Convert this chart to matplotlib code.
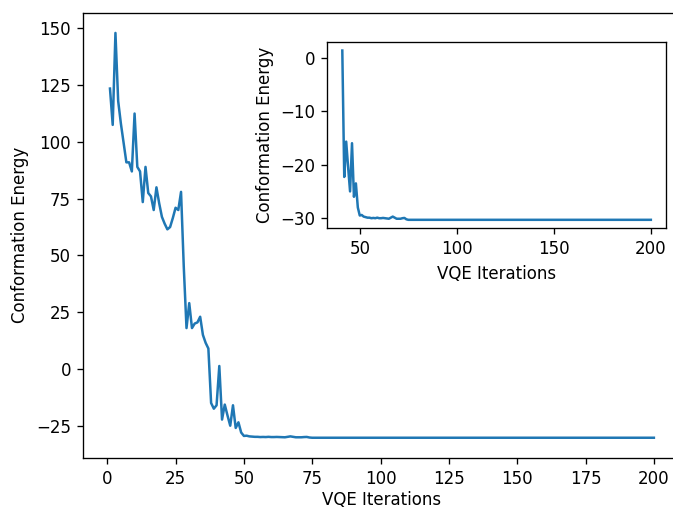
import numpy as np
import matplotlib
matplotlib.use("Agg")
import matplotlib.pyplot as plt

# VQE iterations 1..200
iterations = list(range(1, 201))

# energies, iterations 1..74
energies_head = [
    123.5, 107.5, 148.0, 118.0, 108.0, 99.5, 91.0, 91.0, 87.0, 112.5,
    89.0, 87.0, 73.5, 89.0, 77.5, 76.0, 70.0, 80.0, 73.0, 67.0,
    64.0, 61.5, 62.5, 66.5, 71.0, 70.0, 78.0, 45.0, 18.0, 29.0,
    18.0, 20.0, 20.5, 23.0, 15.0, 11.5, 9.0, -15.0, -17.5, -16.0,
    1.3, -22.3, -15.7, -20.5, -25.0, -16.0, -26.0, -23.5, -28.0, -29.5,
    -29.4, -29.7, -29.8, -29.9, -29.9, -30.0, -29.95, -30.0, -29.9, -30.0,
    -30.0, -29.95, -30.0, -30.05, -30.1, -29.9, -29.7, -29.9, -30.1, -30.1,
    -30.1, -30.0, -29.95, -30.2,
]

# flat tail, iterations 75..200
energies_tail = [
    -30.3, -30.3, -30.3, -30.3, -30.3, -30.3, -30.3, -30.3, -30.3, -30.3,
    -30.3, -30.3, -30.3, -30.3, -30.3, -30.3, -30.3, -30.3, -30.3, -30.3,
    -30.3, -30.3, -30.3, -30.3, -30.3, -30.3, -30.3, -30.3, -30.3, -30.3,
    -30.3, -30.3, -30.3, -30.3, -30.3, -30.3, -30.3, -30.3, -30.3, -30.3,
    -30.3, -30.3, -30.3, -30.3, -30.3, -30.3, -30.3, -30.3, -30.3, -30.3,
    -30.3, -30.3, -30.3, -30.3, -30.3, -30.3, -30.3, -30.3, -30.3, -30.3,
    -30.3, -30.3, -30.3, -30.3, -30.3, -30.3, -30.3, -30.3, -30.3, -30.3,
    -30.3, -30.3, -30.3, -30.3, -30.3, -30.3, -30.3, -30.3, -30.3, -30.3,
    -30.3, -30.3, -30.3, -30.3, -30.3, -30.3, -30.3, -30.3, -30.3, -30.3,
    -30.3, -30.3, -30.3, -30.3, -30.3, -30.3, -30.3, -30.3, -30.3, -30.3,
    -30.3, -30.3, -30.3, -30.3, -30.3, -30.3, -30.3, -30.3, -30.3, -30.3,
    -30.3, -30.3, -30.3, -30.3, -30.3, -30.3, -30.3, -30.3, -30.3, -30.3,
    -30.3, -30.3, -30.3, -30.3, -30.3, -30.3,
]

main_xticks = [0, 25, 50, 75, 100, 125, 150, 175, 200]
inset_xticks = [50, 100, 150, 200]

energies = np.asarray(energies_head + energies_tail)
x = np.asarray(iterations)

# inset shows from iteration 41 on
inset_start = 40

dpi = 120
fig = plt.figure(figsize=(673 / dpi, 510 / dpi), dpi=dpi)

# main axes runs a bit past the right edge, as in the reference crop
ax = fig.add_axes([0.1230, 0.1020, 0.8890, 0.8731])
ax.plot(x, energies)
ax.set_xticks(main_xticks)
ax.set_xlabel("VQE Iterations", labelpad=2)
ax.set_ylabel("Conformation Energy")

ax_in = fig.add_axes([0.4857, 0.5524, 0.5043, 0.3651])
ax_in.plot(x[inset_start:], energies[inset_start:])
ax_in.set_xticks(inset_xticks)
ax_in.set_xlabel("VQE Iterations")
ax_in.set_ylabel("Conformation Energy")

plt.savefig("out.png", dpi=dpi)
